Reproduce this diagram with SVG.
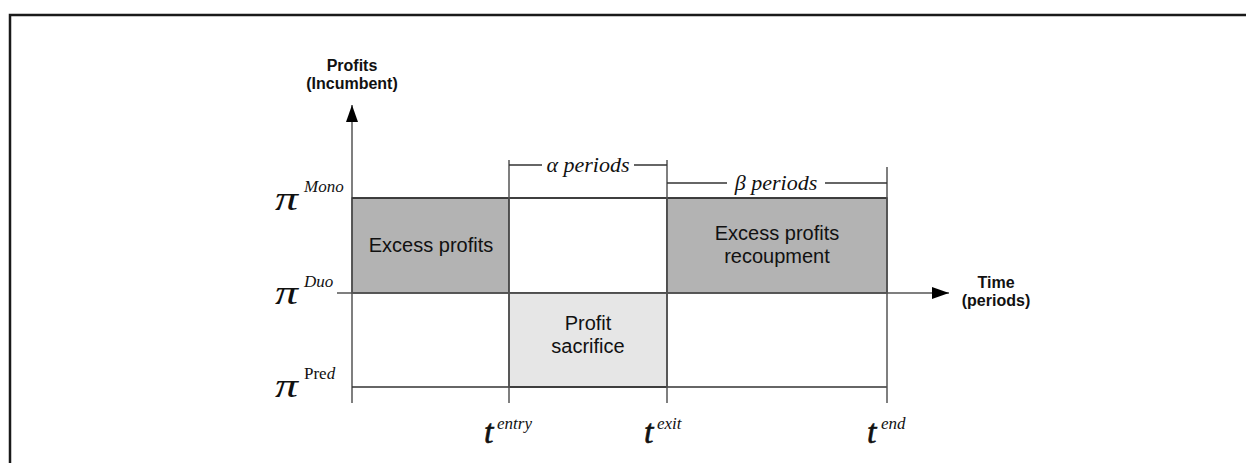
<svg xmlns="http://www.w3.org/2000/svg" width="1246" height="463" viewBox="0 0 1246 463">
<style>
.frame{fill:none;stroke:#1a1a1a;stroke-width:2.5}
.ln{stroke:#333;stroke-width:1.5;fill:none}
.ax{stroke:#555;stroke-width:1.5;fill:none}
.dark{fill:#b3b3b3;stroke:#333;stroke-width:1.5}
.light{fill:#e6e6e6;stroke:#333;stroke-width:1.5}
.white{fill:#fff;stroke:#333;stroke-width:1.5}
.lbl{font-family:"Liberation Sans",Arial,sans-serif;font-size:20px;fill:#111;text-anchor:middle}
.axl{font-family:"Liberation Sans",Arial,sans-serif;font-size:16px;font-weight:bold;fill:#111;text-anchor:middle}
.big{font-family:"Liberation Serif","Times New Roman",serif;font-style:italic;font-size:34px;fill:#111}
.tt{stroke:#111;stroke-width:0.6}
.sup{font-family:"Liberation Serif","Times New Roman",serif;font-style:italic;font-size:17px;fill:#111}
.per{font-family:"Liberation Serif","Times New Roman",serif;font-style:italic;font-size:22px;fill:#111;text-anchor:middle}
.rm{font-style:normal}
</style>
<defs>
<marker id="arr" viewBox="0 0 17 12" refX="17" refY="6" markerWidth="17" markerHeight="12" markerUnits="userSpaceOnUse" orient="auto">
<path d="M0,0 L17,6 L0,12 Z" fill="#000"/>
</marker>
</defs>
<rect class="frame" x="10" y="15" width="1260" height="470"/>
<g id="boxes">
<g id="excess-profits">
<rect class="dark" x="352" y="198" width="157" height="95"/>
<text class="lbl" x="431" y="252">Excess profits</text>
</g>
<g id="alpha-gap">
<rect class="white" x="509" y="198" width="158" height="95"/>
</g>
<g id="recoupment">
<rect class="dark" x="667" y="198" width="220" height="95"/>
<text class="lbl" x="777" y="240">Excess profits</text>
<text class="lbl" x="777" y="263">recoupment</text>
</g>
<g id="profit-sacrifice">
<rect class="light" x="509" y="293" width="158" height="94"/>
<text class="lbl" x="588" y="330">Profit</text>
<text class="lbl" x="588" y="353">sacrifice</text>
</g>
</g>
<g id="connectors">
<line class="ax" x1="352" y1="403" x2="352" y2="105" marker-end="url(#arr)"/>
<line class="ax" x1="337" y1="293" x2="949" y2="293" marker-end="url(#arr)"/>
<line class="ln" x1="352" y1="198" x2="887" y2="198"/>
<line class="ln" x1="352" y1="387" x2="887" y2="387"/>
<line class="ax" x1="509" y1="160" x2="509" y2="403"/>
<line class="ax" x1="667" y1="160" x2="667" y2="403"/>
<line class="ax" x1="887" y1="167" x2="887" y2="403"/>
<line class="ln" x1="509" y1="165" x2="542" y2="165"/>
<line class="ln" x1="634" y1="165" x2="667" y2="165"/>
<line class="ln" x1="667" y1="183" x2="727" y2="183"/>
<line class="ln" x1="825" y1="183" x2="887" y2="183"/>
</g>
<g id="axis-labels">
<g id="y-label">
<text class="axl" x="352" y="71">Profits</text>
<text class="axl" x="352" y="89">(Incumbent)</text>
</g>
<g id="x-label">
<text class="axl" x="996" y="288">Time</text>
<text class="axl" x="996" y="306">(periods)</text>
</g>
</g>
<g id="period-labels">
<text class="per" x="588" y="172">α periods</text>
<text class="per" x="776" y="190">β periods</text>
</g>
<g id="pi-labels">
<text class="big" transform="translate(275,210) scale(1.35,1)">π</text><text class="sup" x="304" y="192">Mono</text>
<text class="big" transform="translate(275,304) scale(1.35,1)">π</text><text class="sup" x="304" y="287">Duo</text>
<text class="big" transform="translate(275,397) scale(1.35,1)">π</text><text class="sup" x="304" y="379"><tspan class="rm">Pre</tspan>d</text>
</g>
<g id="t-labels">
<text class="big tt" x="484" y="443">t</text><text class="sup" x="497" y="429">entry</text>
<text class="big tt" x="644" y="443">t</text><text class="sup" x="657" y="429">exit</text>
<text class="big tt" x="867" y="443">t</text><text class="sup" x="881" y="429">end</text>
</g>
</svg>
